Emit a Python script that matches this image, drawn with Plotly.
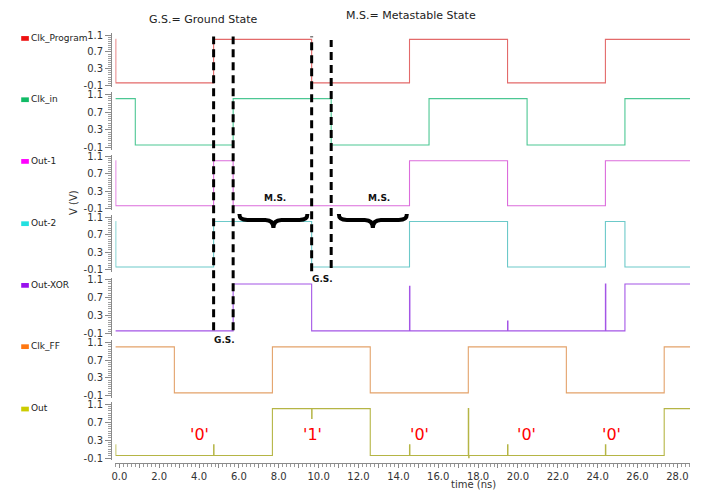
import plotly.graph_objects as go

W, H = 708, 495
FONT = "DejaVu Sans"

# ---------------- data ----------------
names = ["Clk_Program", "Clk_in", "Out-1", "Out-2", "Out-XOR", "Clk_FF", "Out"]
legend_colors = ["#ee1111", "#11bb66", "#ff00ff", "#22e0e0", "#9911ee", "#ff7711", "#cccc00"]
line_colors = ["#e36a6a", "#4cc793", "#dc6cdc", "#6cc9c9", "#a455e6", "#e3a26a", "#b5b545"]

HI = 1.0
LO = -0.04

# edge times (ns, as read on the time axis) and the level after each edge ('hv' steps)
clk_program_t = [-0.2, -0.18, 4.73, 9.65, 14.56, 19.48, 24.39, 28.64]
clk_program_v = [HI, LO, HI, LO, HI, LO, HI, HI]
clk_in_t = [-0.2, 0.80, 5.71, 10.63, 15.54, 20.46, 25.37, 28.64]
clk_in_v = [HI, LO, HI, LO, HI, LO, HI, HI]
out1_t = [-0.2, -0.18, 4.73, 5.71, 14.56, 19.48, 24.39, 28.64]
out1_v = [HI, LO, HI, LO, HI, LO, HI, HI]
out2_t = [-0.2, -0.18, 4.73, 9.65, 14.56, 19.48, 24.39, 25.37, 28.64]
out2_v = [HI, LO, HI, LO, HI, LO, HI, LO, LO]
outxor_t = [-0.2, 5.71, 9.65, 14.56, 14.58, 19.48, 19.50, 24.39, 24.41, 25.37, 28.64]
outxor_v = [LO, HI, LO, 0.95, LO, 0.18, LO, 1.0, LO, HI, HI]
clk_ff_t = [-0.2, 2.76, 7.68, 12.59, 17.51, 22.43, 27.34, 28.64]
clk_ff_v = [HI, LO, HI, LO, HI, LO, HI, HI]
out_t = [-0.2, -0.18, 4.73, 4.75, 7.68, 9.65, 9.67, 12.59, 14.56, 14.58,
         17.51, 17.53, 17.55, 19.48, 19.50, 24.39, 24.41, 27.34, 28.64]
out_v = [0.2, LO, 0.2, LO, HI, 0.78, HI, LO, 0.2, LO,
         HI, -0.09, LO, 0.2, LO, 0.2, LO, HI, HI]

signals_t = [clk_program_t, clk_in_t, out1_t, out2_t, outxor_t, clk_ff_t, out_t]
signals_v = [clk_program_v, clk_in_v, out1_v, out2_v, outxor_v, clk_ff_v, out_v]

y_tickvals = [-0.1, 0.3, 0.7, 1.1]
y_ticktext = ["-0.1", "0.3", "0.7", "1.1"]
x_tickvals = list(range(0, 29))
x_ticktext = [f"{v:.1f}" if v % 2 == 0 else "" for v in x_tickvals]

# annotations data
bit_labels = ["'0'", "'1'", "'0'", "'0'", "'0'"]
bit_times = [4.03, 9.68, 15.07, 20.41, 24.70]
bit_level = 0.42
ms_times = [7.81, 13.05]
brace_times = [7.73, 12.72]
gs_times = [5.29, 10.18]
dash_times = [4.73, 5.71, 9.65, 10.63]

# ---------------- layout helpers ----------------
def py(px):
    return 1 - px / H

def pxx(px):
    return px / W

tops_px = [31.7, 91.7, 155, 216.7, 280, 344, 406.7]
bots_px = [82.7, 146, 207.7, 270, 335, 398, 461.7]
PAD = 2.0

fig = go.Figure()
layout = dict(
    width=W, height=H,
    margin=dict(l=0, r=0, t=0, b=0),
    paper_bgcolor="white", plot_bgcolor="white",
    font=dict(family=FONT, size=10, color="#333"),
    showlegend=False,
)

x_lo = -0.2
x_hi = 28.64
layout["xaxis"] = dict(
    domain=[pxx(112), pxx(690)], range=[x_lo, x_hi],
    anchor="free", position=py(466.7),
    showline=True, linecolor="#8a8a8a", linewidth=1,
    ticks="outside", ticklen=4, tickcolor="#8a8a8a",
    tickmode="array", tickvals=x_tickvals, ticktext=x_ticktext,
    minor=dict(dtick=0.2, tick0=0, ticks="outside", ticklen=2.5, tickcolor="#9a9a9a"),
    showgrid=False, zeroline=False,
    tickfont=dict(family=FONT, size=10, color="#333"),
)

for i in range(7):
    top, bot = tops_px[i], bots_px[i]
    ppv = (bot - top) / 1.2
    yname = "yaxis" if i == 0 else f"yaxis{i+1}"
    layout[yname] = dict(
        domain=[py(bot + PAD), py(top - PAD)],
        range=[-0.1 - PAD / ppv, 1.1 + PAD / ppv],
        anchor="free", position=pxx(107.7),
        showline=True, linecolor="#8a8a8a", linewidth=1,
        ticks="outside", ticklen=6, tickcolor="#8a8a8a",
        tickmode="array", tickvals=y_tickvals, ticktext=y_ticktext,
        minor=dict(dtick=0.05, tick0=-0.1, ticks="outside", ticklen=3.5, tickcolor="#a0a0a0"),
        showgrid=False, zeroline=False,
        tickfont=dict(family=FONT, size=10, color="#333"),
    )
    fig.add_trace(go.Scatter(
        x=signals_t[i], y=signals_v[i], mode="lines",
        line=dict(color=line_colors[i], width=1.1, shape="hv"),
        xaxis="x", yaxis="y" if i == 0 else f"y{i+1}",
        name=names[i], hoverinfo="skip",
    ))

fig.update_layout(**layout)

annotations = []
shapes = []

# legend on the left
legend_y_px = [35, 97.3, 160, 223.3, 286, 348.3, 411.7]
for name, col, ypx in zip(names, legend_colors, legend_y_px):
    shapes.append(dict(type="rect", xref="paper", yref="paper",
                       x0=pxx(17.3), x1=pxx(25), y0=py(ypx + 2.4), y1=py(ypx - 2.4),
                       fillcolor=col, line=dict(width=0)))
    annotations.append(dict(text=name, xref="paper", yref="paper", x=pxx(25.3), y=py(ypx - 0.6),
                            xanchor="left", yanchor="middle", showarrow=False,
                            font=dict(family=FONT, size=9, color="#222")))

# titles
annotations.append(dict(text="G.S.= Ground State", xref="paper", yref="paper",
                        x=pxx(201), y=py(16), showarrow=False, xanchor="center", yanchor="middle",
                        font=dict(family=FONT, size=11, color="#222")))
annotations.append(dict(text="M.S.= Metastable State", xref="paper", yref="paper",
                        x=pxx(409), y=py(12), showarrow=False, xanchor="center", yanchor="middle",
                        font=dict(family=FONT, size=11, color="#222")))
annotations.append(dict(text="V (V)", xref="paper", yref="paper", textangle=-90,
                        x=pxx(70), y=py(201.7), showarrow=False, xanchor="center", yanchor="middle",
                        font=dict(family=FONT, size=10, color="#333")))
annotations.append(dict(text="time (ns)", xref="paper", yref="paper",
                        x=pxx(472.6), y=py(496), showarrow=False, xanchor="center", yanchor="bottom",
                        font=dict(family=FONT, size=10, color="#333")))

# bit labels
for t, lab in zip(bit_times, bit_labels):
    annotations.append(dict(text=lab, xref="x", yref="y7", x=t, y=bit_level, showarrow=False,
                            xanchor="center", yanchor="middle",
                            font=dict(family=FONT, size=16, color="#ff0000")))

# M.S. and G.S. labels
for t in ms_times:
    annotations.append(dict(text="<b>M.S.</b>", xref="x", yref="paper", x=t, y=py(196.7),
                            showarrow=False, xanchor="center", yanchor="middle",
                            font=dict(family=FONT, size=9, color="#111")))
gs_y_px = [341.7, 279.3]
for t, ypx in zip(gs_times, gs_y_px):
    annotations.append(dict(text="<b>G.S.</b>", xref="x", yref="paper", x=t, y=py(ypx),
                            showarrow=False, xanchor="center", yanchor="middle",
                            font=dict(family=FONT, size=9, color="#111")))

# dashed marker lines
dash_extent_px = [(33, 331.7), (33, 331.7), (33, 271.7), (36.7, 268.3)]
for t, (ytop, ybot) in zip(dash_times, dash_extent_px):
    shapes.append(dict(type="line", xref="x", yref="paper", x0=t, x1=t,
                       y0=py(ybot), y1=py(ytop),
                       line=dict(color="black", width=3, dash="8px,5px")))

# curly braces
brace_path = ("M -34,7 C -34,2 -31,1 -26,1 L -8,1 C -3,1 0,-1 0,-7 "
              "C 0,-1 3,1 8,1 L 26,1 C 31,1 34,2 34,7")
for t in brace_times:
    shapes.append(dict(type="path", xref="x", yref="paper",
                       xsizemode="pixel", ysizemode="pixel",
                       xanchor=t, yanchor=py(220.5), path=brace_path,
                       fillcolor="rgba(0,0,0,0)", line=dict(color="black", width=4)))

fig.update_layout(annotations=annotations, shapes=shapes)
fig.write_html("out.html", config={"displayModeBar": False},
               post_script="document.body.style.margin='0';document.body.style.overflow='hidden';")
